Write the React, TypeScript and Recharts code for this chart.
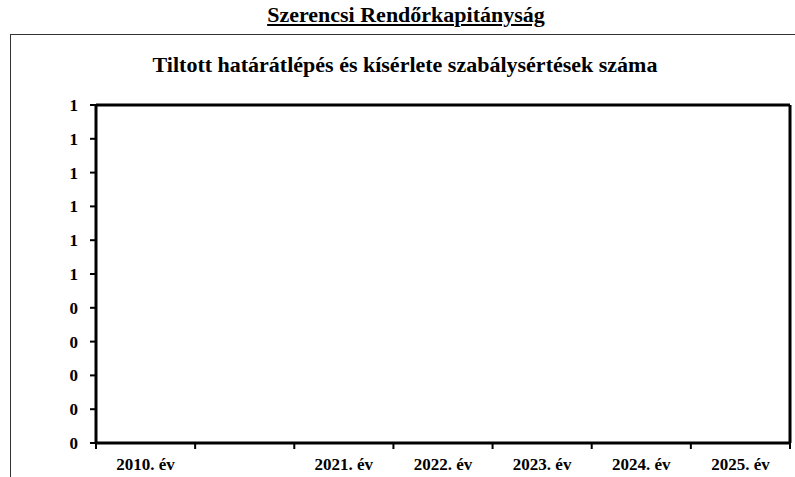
import { BarChart, Bar, XAxis, YAxis } from 'recharts';

const years = ['2010. év', '', '2021. év', '2022. év', '2023. év', '2024. év', '2025. év'];
const counts = [0, 0, 0, 0, 0, 0, 0];
const yTicks = [0, 0.1, 0.2, 0.3, 0.4, 0.5, 0.6, 0.7, 0.8, 0.9, 1];

const data = years.map((year, i) => ({ year, count: counts[i] }));

const W = 795;
const H = 477;
const margin = { top: 104, right: 4, bottom: 0, left: 0 };
const yAxisWidth = 96;
const plotWidth = W - margin.left - margin.right - yAxisWidth - 1;
const half = plotWidth / years.length / 2;
const font = '"Liberation Serif", "Times New Roman", serif';

const YearTick = (props: any) => {
  const { x, y, payload, index } = props;
  const last = index === years.length - 1;
  return (
    <g>
      <line x1={x - half} y1={y} x2={x - half} y2={y + 6} stroke="#000" strokeWidth={2} />
      {last && <line x1={x + half} y1={y} x2={x + half} y2={y + 6} stroke="#000" strokeWidth={2} />}
      <text x={x} y={y + 27} textAnchor="middle" fontFamily={font} fontWeight="bold" fontSize={17} fill="#000">
        {payload.value}
      </text>
    </g>
  );
};

export default function App() {
  return (
    <div style={{ position: 'absolute', left: 0, top: 0, width: W, height: H, background: '#fff', overflow: 'hidden' }}>
      <div
        style={{
          position: 'absolute', left: 0, top: 2, width: 812, textAlign: 'center',
          fontFamily: font, fontWeight: 'bold', fontSize: 22, textDecoration: 'underline',
        }}
      >
        Szerencsi Rendőrkapitányság
      </div>
      <div style={{ position: 'absolute', left: 10, top: 34, width: 800, height: 460, border: '1px solid #333', boxSizing: 'border-box' }} />
      <div
        style={{
          position: 'absolute', left: 0, top: 52, width: 810, textAlign: 'center',
          fontFamily: font, fontWeight: 'bold', fontSize: 22,
        }}
      >
        Tiltott határátlépés és kísérlete szabálysértések száma
      </div>
      <div style={{ position: 'absolute', left: 0, top: 0 }}>
        <BarChart width={W} height={H} data={data} margin={margin}>
          <XAxis
            dataKey="year"
            interval={0}
            height={34}
            axisLine={{ stroke: '#000', strokeWidth: 3 }}
            tickLine={false}
            tickSize={0}
            tickMargin={0}
            tick={<YearTick />}
          />
          <XAxis
            xAxisId="top"
            orientation="top"
            dataKey="year"
            height={1}
            tickLine={false}
            tick={false}
            axisLine={{ stroke: '#000', strokeWidth: 3 }}
          />
          <YAxis
            width={yAxisWidth}
            domain={[0, 1]}
            ticks={yTicks}
            interval={0}
            tickFormatter={(v: number) => String(Math.round(v))}
            axisLine={{ stroke: '#000', strokeWidth: 3 }}
            tickLine={{ stroke: '#000', strokeWidth: 2 }}
            tickSize={6}
            tickMargin={12}
            tick={{ fill: '#000', fontFamily: font, fontWeight: 'bold', fontSize: 17 }}
          />
          <YAxis
            yAxisId="right"
            orientation="right"
            width={1}
            tickLine={false}
            tick={false}
            axisLine={{ stroke: '#000', strokeWidth: 3 }}
          />
          <Bar dataKey="count" fill="#808080" isAnimationActive={false} />
        </BarChart>
      </div>
    </div>
  );
}
